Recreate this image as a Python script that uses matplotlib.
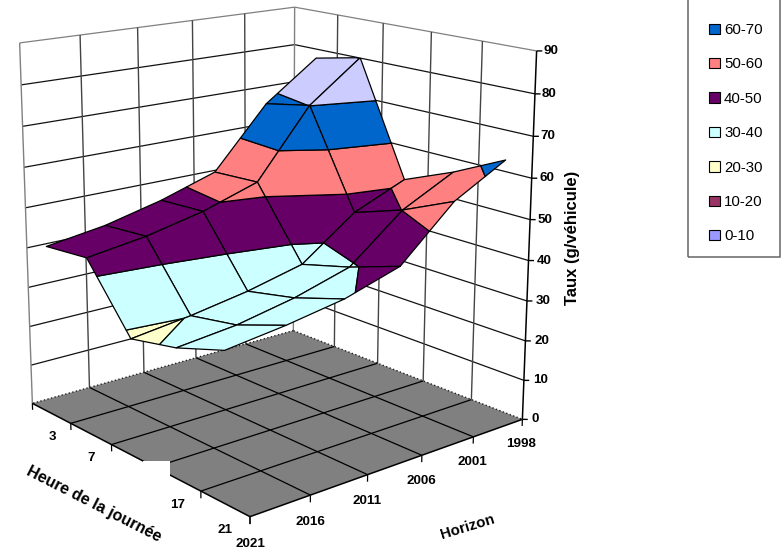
import numpy as np
import matplotlib
matplotlib.use("Agg")
import matplotlib.pyplot as plt
from matplotlib.patches import Patch, Rectangle
from mpl_toolkits.mplot3d.art3d import Poly3DCollection, Line3DCollection

plt.rcParams['font.family'] = ['Liberation Sans', 'DejaVu Sans']

hours = [3, 7, 12, 17, 21]
hour_labels = ['3', '7', '', '17', '21']
horizons = ['1998', '2001', '2006', '2011', '2016', '2021']
band_levels = [0, 10, 20, 30, 40, 50, 60, 70, 80]
band_colors = ['#9999FF', '#993366', '#FFFFCC', '#CCFFFF', '#660066', '#FF8080', '#0066CC', '#CCCCFF']
band_labels = ['0-10', '10-20', '20-30', '30-40', '40-50', '50-60', '60-70']
z_ticks = list(range(0, 100, 10))

# one list per hour, values for 1998 ... 2021
taux_3h = [77.7, 67.8, 52.4, 47.9, 44.5, 42.4]
taux_7h = [80.2, 70.1, 53.1, 48.6, 45.5, 43.5]
taux_12h = [51.5, 45.9, 35.9, 32.6, 30.2, 28.4]
taux_17h = [56.7, 50.1, 39.2, 35.2, 32.4, 30.9]
taux_21h = [62.9, 55.7, 43.4, 39.2, 36.8, 35.0]
values = np.array([taux_3h, taux_7h, taux_12h, taux_17h, taux_21h])

W, H = 783, 551
fig = plt.figure(figsize=(W/100, H/100), dpi=100)
ax = fig.add_axes([0, (1-W/H)/2, 1, W/H], projection='3d')
ax.set_axis_off()
ax.set_autoscale_on(False)
ax.computed_zorder = False
ax.patch.set_alpha(0)

# camera: solved from the box corners as seen on the picture
box3d = np.array([(0,0,0),(0,5,0),(5,5,0),(5,0,0),(0,0,90),(0,5,90),(5,0,90)], float)
box2d = np.array([(294,331),(32,403),(250,517),(522,419),(294,7),(20,43),(537,51)], float)
rows, rhs = [], []
for (a,b,c),(x,y) in zip(box3d, box2d):
    rows.append([a,b,c,1,0,0,0,0,-x*a,-x*b,-x*c]); rhs.append(x)
    rows.append([0,0,0,0,a,b,c,1,-y*a,-y*b,-y*c]); rhs.append(y)
s = np.linalg.lstsq(np.array(rows), np.array(rhs), rcond=None)[0]
P = np.array([s[:4], s[4:8], [s[8], s[9], s[10], 1.0]])
flip = np.array([[1,0,0],[0,-1,H],[0,0,1.0]])
Q = ax.transData.inverted().get_matrix() @ flip @ P
M = np.array([Q[0], Q[1], [1e-3,-1e-3,0.5e-3,0.3e-3], Q[2]])
ax.get_proj = lambda: M

def to_fig(u, v, z):
    p = P @ np.array([u, v, z, 1.0])
    return p[0]/p[2]/W, 1-p[1]/p[2]/H

zo = [0]
def nz():
    zo[0] += 1
    return zo[0]
def line(xs, ys, zs, color='k', lw=0.8, ls='-'):
    seg = [list(zip(xs, ys, zs))]
    ax.add_collection3d(Line3DCollection(seg, colors=color, linewidths=lw, linestyles=ls, zorder=nz()))

# walls
for z in z_ticks[1:]:
    c = '#808080' if z == 90 else '#111111'
    line([0,0],[5,0],[z,z],c,0.9)
    line([0,5],[0,0],[z,z],c,0.9)
for k in range(6):
    line([0,0],[k,k],[0,90],'#808080' if k in (0,5) else '#444444',1.0)
    if 0 < k < 5:
        line([k,k],[0,0],[0,90],'#444444',1.0)

# floor
ax.add_collection3d(Poly3DCollection([[(0,0,0),(0,5,0),(5,5,0),(5,0,0)]],facecolor='#808080',edgecolor='none',zorder=nz()))
for k in range(1,5):
    line([k,k],[0,5],[0,0],'k',0.9)
    line([0,5],[k,k],[0,0],'k',0.9)
line([0,0],[0,5],[0,0],'#222222',1.0,':')
line([0,5],[0,0],[0,0],'#222222',1.0,':')
line([0,5],[5,5],[0,0],'k',1.1)
line([5,5],[0,5],[0,0],'k',1.1)
line([5,5],[0,0],[0,90],'k',1.1)
for k in range(6):
    line([5,5],[k,k],[0,-1.7],'k',0.9)
    line([k,k],[5,5],[0,-1.7],'k',0.9)

a_t, b_t = 0.05, 0.057
label_kw = dict(fontsize=9.6, fontweight='bold', va='center')
for z in z_ticks:
    line([5,5+a_t],[0,-b_t],[z,z],'k',1.0)
    f = 0.92-0.32*z/90
    fig.text(*to_fig(5+0.095*f,-0.107*f,z),str(z),ha='left',**label_kw)
for j,lab in enumerate(horizons):
    fig.text(*to_fig(5,j,-6.3),lab,ha='center',**label_kw)
for i,lab in enumerate(hour_labels):
    if lab:
        fig.text(*to_fig(i+0.5,5,-6.2),lab,ha='center',**label_kw)

def clip(poly, level, keep_above):
    out = []
    n = len(poly)
    for k in range(n):
        p, q = poly[k], poly[(k+1) % n]
        pin = p[2] >= level if keep_above else p[2] <= level
        qin = q[2] >= level if keep_above else q[2] <= level
        if pin:
            out.append(p)
        if pin != qin:
            t = (level-p[2])/(q[2]-p[2])
            out.append(tuple(p[m]+t*(q[m]-p[m]) for m in range(3)))
    return out

for i in range(len(hours)-1):
    for j in range(len(horizons)-1):
        cell = [(i+.5,j,values[i,j]),(i+1.5,j,values[i+1,j]),(i+1.5,j+1,values[i+1,j+1]),(i+.5,j+1,values[i,j+1])]
        for b in range(len(band_colors)):
            poly = clip(cell, band_levels[b], True)
            if len(poly) >= 3:
                poly = clip(poly, band_levels[b]+10, False)
            if len(poly) >= 3:
                ax.add_collection3d(Poly3DCollection([poly],facecolor=band_colors[b],edgecolor='k',linewidth=0.9,zorder=nz()))

fig.add_artist(Rectangle((143/W,1-476/H),27/W,15/H,transform=fig.transFigure,facecolor='white',edgecolor='none',zorder=50))

title_kw = dict(ha='center', va='center', fontweight='bold')
fig.text(573/W,1-238/H,'Taux (g/véhicule)',rotation=90,fontsize=12,**title_kw)
fig.text(468/W,1-527/H,'Horizon',rotation=17,fontsize=10.8,**title_kw)
fig.text(94/W,1-504/H,'Heure de la journée',rotation=-27,fontsize=11.5,**title_kw)

fig.add_artist(Rectangle((688/W,1-257/H),92/W,270/H,transform=fig.transFigure,facecolor='none',edgecolor='#666666',lw=1.1))
handles = [Patch(facecolor=c,edgecolor='k',lw=0.8,label=l) for c,l in zip(band_colors[:7][::-1],band_labels[::-1])]
fig.legend(handles=handles,loc='lower left',bbox_to_anchor=(709/W,1-243.5/H),frameon=False,fontsize=10.8,
           handlelength=0.7,handleheight=0.7,handletextpad=0.3,labelspacing=1.36,borderpad=0,borderaxespad=0)
fig.savefig('out.png',dpi=100)
